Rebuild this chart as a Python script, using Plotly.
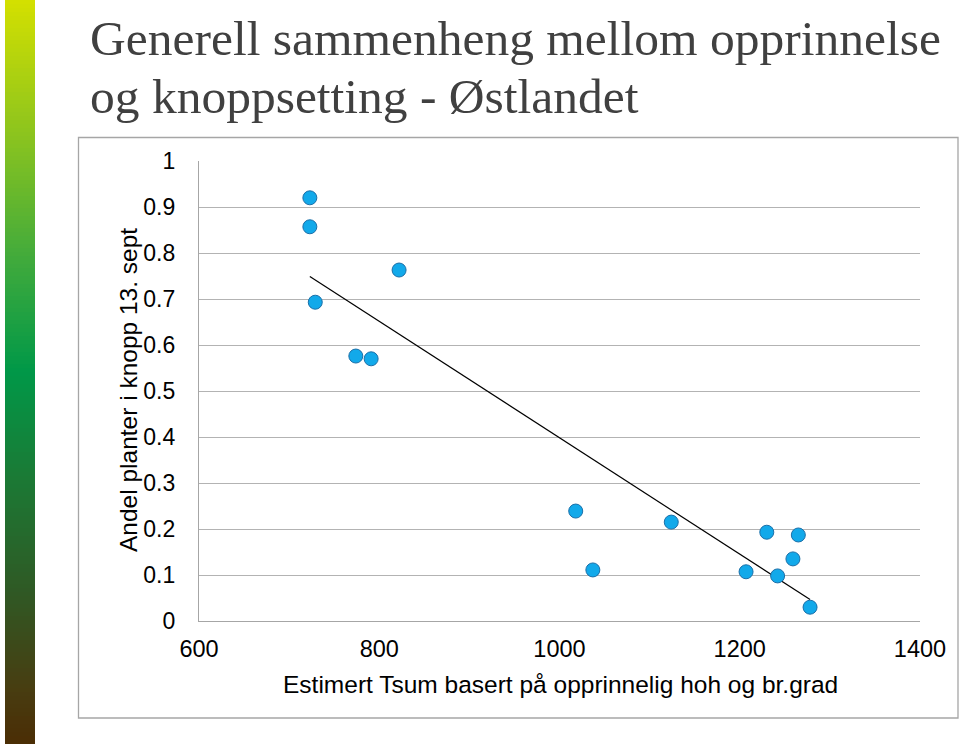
import numpy as np
import plotly.graph_objects as go

# ---- data ----
tsum = [723, 723, 729, 822, 774, 791, 1018, 1037, 1124, 1230, 1265, 1259, 1207, 1242, 1278]
andel = [0.92, 0.857, 0.693, 0.763, 0.576, 0.57, 0.239, 0.111, 0.215, 0.193, 0.187, 0.135, 0.107, 0.098, 0.03]
x_ticks = [600, 800, 1000, 1200, 1400]
y_ticks = [0, 0.1, 0.2, 0.3, 0.4, 0.5, 0.6, 0.7, 0.8, 0.9, 1]
y_tick_labels = ["0", "0.1", "0.2", "0.3", "0.4", "0.5", "0.6", "0.7", "0.8", "0.9", "1"]
title_line1 = "Generell sammenheng mellom opprinnelse"
title_line2 = "og knoppsetting - Østlandet"
x_title = "Estimert Tsum basert på opprinnelig hoh og br.grad"
y_title = "Andel planter i knopp 13. sept"

# linear trendline (least squares, like the spreadsheet trendline)
slope, intercept = np.polyfit(tsum, andel, 1)
tx = [min(tsum), max(tsum)]
ty = [slope * v + intercept for v in tx]

W, H = 960, 744
L, R, T, B = 199, 920, 161, 621


def px(x):
    return (x - L) / (R - L)


def py(y):
    return (B - y) / (B - T)


fig = go.Figure()
fig.add_trace(go.Scatter(x=tx, y=ty, mode="lines",
                         line=dict(color="black", width=1.2),
                         hoverinfo="skip", showlegend=False))
fig.add_trace(go.Scatter(x=tsum, y=andel, mode="markers",
                         marker=dict(size=14, color="#12a9ea",
                                     line=dict(color="#1b6fa8", width=1)),
                         showlegend=False))

shapes = []
# left decorative gradient bar
stops = [(0.0, (212, 224, 0)), (0.18, (140, 196, 30)), (0.35, (64, 170, 60)),
         (0.5, (0, 152, 72)), (0.65, (28, 120, 52)), (0.8, (48, 88, 36)),
         (0.93, (72, 60, 16)), (1.0, (75, 45, 5))]


def col(t):
    for i in range(len(stops) - 1):
        a, ca = stops[i]
        b, cb = stops[i + 1]
        if a <= t <= b:
            f = (t - a) / (b - a)
            c = [round(ca[k] + (cb[k] - ca[k]) * f) for k in range(3)]
            return "rgb(%d,%d,%d)" % tuple(c)
    return "rgb(75,45,5)"


step = 4
for y0 in range(0, H, step):
    shapes.append(dict(type="rect", xref="paper", yref="paper",
                       x0=px(5), x1=px(35), y0=py(y0), y1=py(y0 + step + 0.5),
                       fillcolor=col((y0 + step / 2) / H), line=dict(width=0),
                       layer="below"))
# chart frame
shapes.append(dict(type="rect", xref="paper", yref="paper",
                   x0=px(78.5), x1=px(958), y0=py(137.5), y1=py(718),
                   line=dict(color="#a6a6a6", width=1.3), fillcolor="rgba(0,0,0,0)",
                   layer="below"))

title_font = dict(family="Liberation Serif", size=49.5, color="#404040")
annotations = [
    dict(text=title_line1, xref="paper", yref="paper", x=px(88), y=py(38),
         xanchor="left", yanchor="middle", align="left", showarrow=False,
         font=title_font),
    dict(text=title_line2, xref="paper", yref="paper", x=px(88), y=py(97),
         xanchor="left", yanchor="middle", align="left", showarrow=False,
         font=title_font),
    dict(text=y_title, xref="paper", yref="paper", x=px(128), y=py(390),
         xanchor="center", yanchor="middle", textangle=-90, showarrow=False,
         font=dict(family="Liberation Sans", size=24.5, color="black")),
    dict(text=x_title, xref="paper", yref="paper", x=px(560), y=py(684),
         xanchor="center", yanchor="middle", showarrow=False,
         font=dict(family="Liberation Sans", size=24.5, color="black")),
]

fig.update_layout(
    width=W, height=H,
    margin=dict(l=L, r=W - R, t=T, b=H - B),
    paper_bgcolor="white", plot_bgcolor="white",
    shapes=shapes, annotations=annotations,
    xaxis=dict(range=[600, 1400], tickvals=x_ticks, ticktext=[str(v) for v in x_ticks],
               showgrid=False, zeroline=False, showline=True, linecolor="#a6a6a6",
               linewidth=1.3, ticks="", ticklabelstandoff=7,
               tickfont=dict(family="Liberation Sans", size=23.5, color="black")),
    yaxis=dict(range=[0, 1], tickvals=y_ticks, ticktext=y_tick_labels,
               showgrid=True, gridcolor="#b3b3b3", gridwidth=1.3, zeroline=False,
               showline=True, linecolor="#a6a6a6", linewidth=1.3, ticks="",
               ticklabelstandoff=18,
               tickfont=dict(family="Liberation Sans", size=23, color="black")),
)

fig.write_html("out.html", config={"displayModeBar": False},
               post_script="document.body.style.margin='0px';")
